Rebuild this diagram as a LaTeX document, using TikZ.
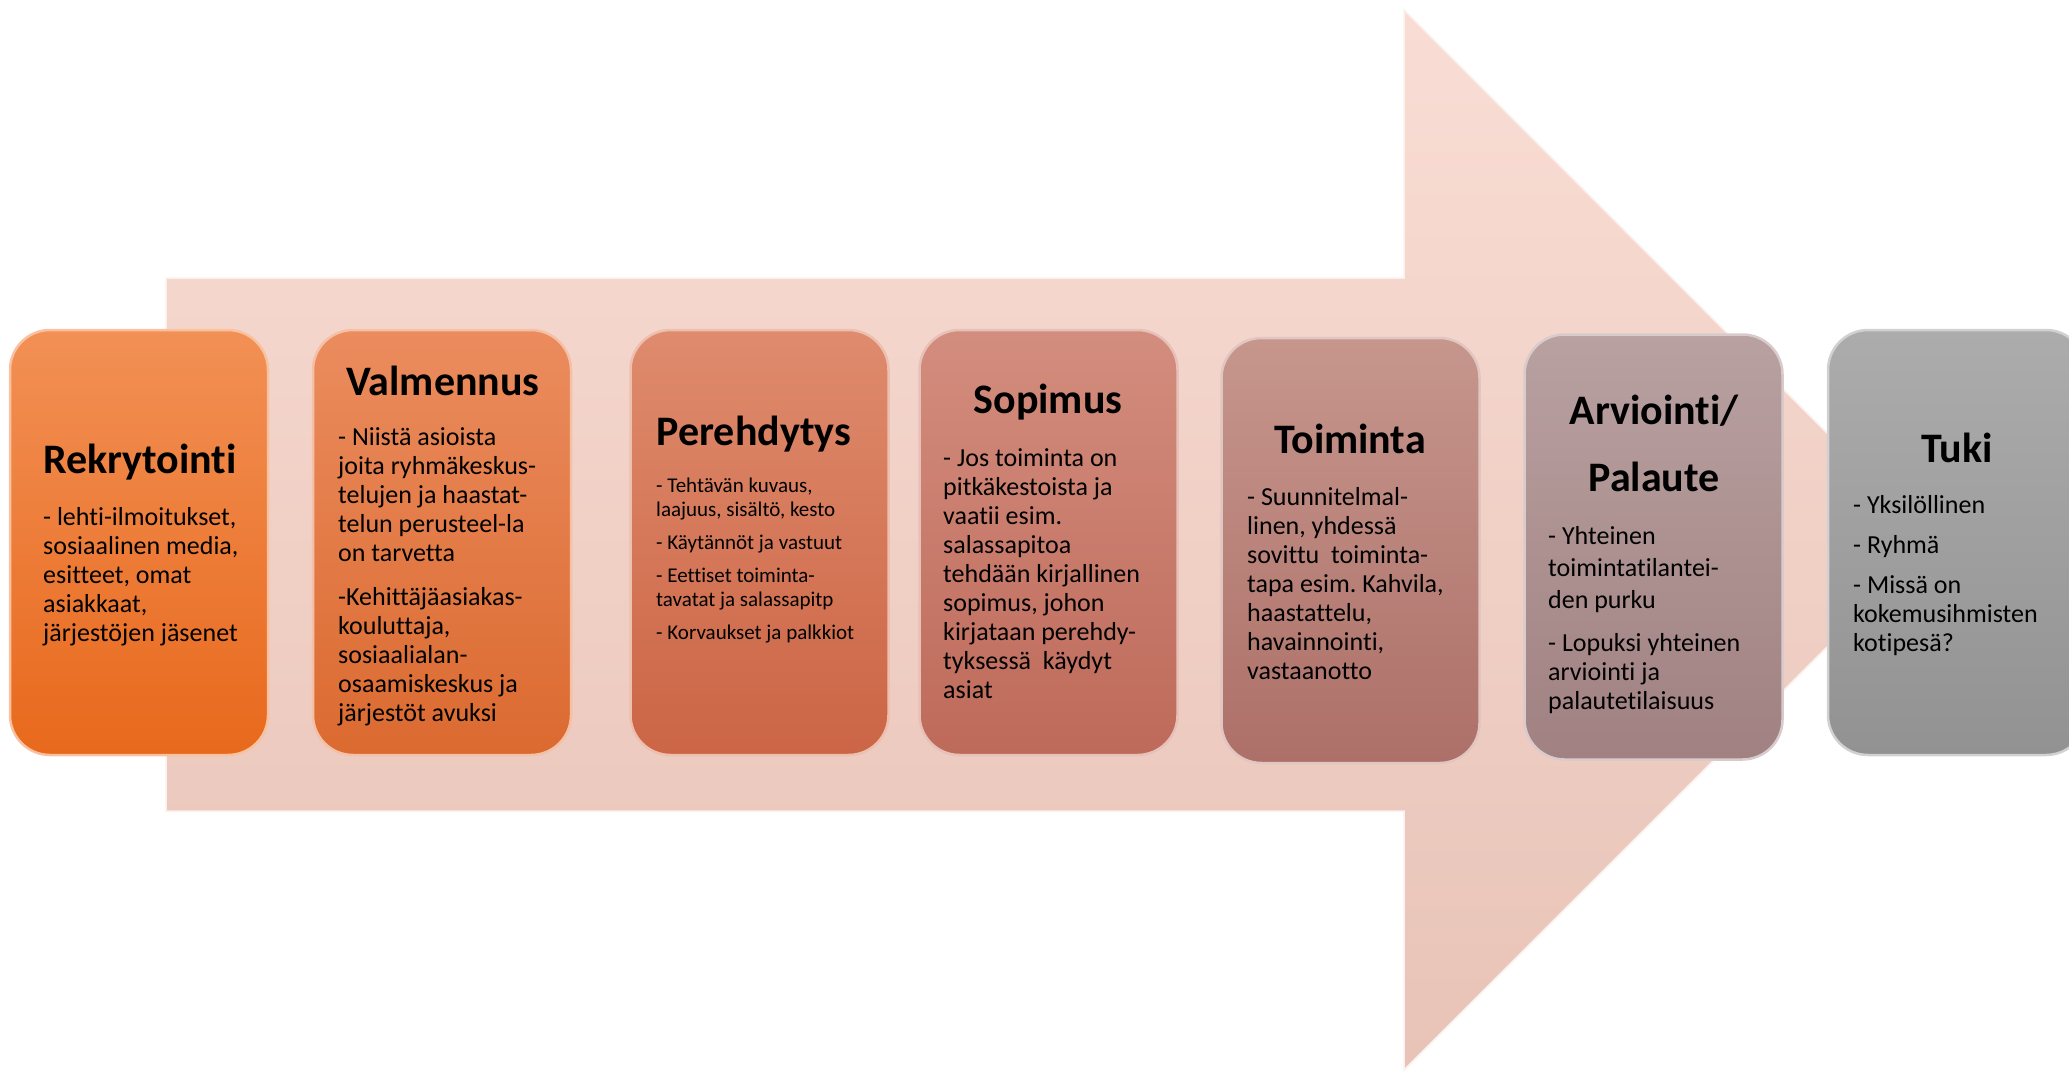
\documentclass[tikz,border=0pt]{standalone}
\usepackage{fontspec}
\setmainfont{Carlito}[Ligatures=NoCommon]
\frenchspacing
\definecolor{polkuNuoliTop}{HTML}{F9DDD4}
\definecolor{polkuNuoliBot}{HTML}{E8C3B7}
\definecolor{polku1Top}{HTML}{F29055}
\definecolor{polku1Bot}{HTML}{E8691C}
\definecolor{polku2Top}{HTML}{EB8C5E}
\definecolor{polku2Bot}{HTML}{DB6A30}
\definecolor{polku3Top}{HTML}{DF8B6D}
\definecolor{polku3Bot}{HTML}{CB6545}
\definecolor{polku4Top}{HTML}{D38D7E}
\definecolor{polku4Bot}{HTML}{BE6A5A}
\definecolor{polku5Top}{HTML}{C6968D}
\definecolor{polku5Bot}{HTML}{AD7068}
\definecolor{polku6Top}{HTML}{B9A1A1}
\definecolor{polku6Bot}{HTML}{A18181}
\definecolor{polku7Top}{HTML}{ACACAC}
\definecolor{polku7Bot}{HTML}{929292}
\usetikzlibrary{
	positioning,
	calc
}
\tikzset{
	vaihe/.style={
		rounded corners=40pt,
		minimum width=258pt,
		minimum height=425pt,
		inner sep=0pt,
		line width=2.5pt
	},
	otsikko/.style={
		font=\fontsize{42}{67}\selectfont\bfseries,
		align=center,
		inner sep=0pt
	},
	teksti/.style={
		font=\fontsize{26}{29}\selectfont,
		align=left,
		anchor=north west,
		inner sep=0pt
	},
	pieni/.style={
		font=\fontsize{21}{24}\selectfont
	},
	nuoli/.style={
		draw=white!55!polkuNuoliTop,
		line width=1.5pt,
		top color=polkuNuoliTop,
		bottom color=polkuNuoliBot
	}
}

\begin{document}
\begin{tikzpicture}[x=1pt,y=-1pt]
		\useasboundingbox (0,0) rectangle (2069,1071);
		\clip (0,0) rectangle (2069,1071);
		% taustanuoli
		\draw[nuoli] (166,278) -- (1404,278) -- (1404,10) -- (1934,540) -- (1404,1070) -- (1404,811) -- (166,811) -- cycle;
		% vaiheet
		\foreach \i/\x/\y in {1/139/542.5,2/442/542.5,3/759.5/542.5,4/1048.5/542.5,5/1350.5/550.5,6/1653.5/547,7/1957/542.5}{
			\node[vaihe, draw=polku\i Top!55!white, top color=polku\i Top, bottom color=polku\i Bot] (v\i) at (\x,\y) {};
		}
		\node[otsikko] (o1) at (140,462) {Rekrytointi};
		\node[otsikko] (o2) at (443,381) {Valmennus};
		\node[otsikko] (o3) at (754,434) {Perehdytys};
		\node[otsikko] (o4) at (1048,402) {Sopimus};
		\node[otsikko] (o5) at (1350,439) {Toiminta};
		\node[otsikko] (o6) at (1654,443) {Arviointi/\\Palaute};
		\node[otsikko] (o7) at (1957,448) {Tuki};
		\node[teksti] (t1) at (43,507) {- lehti-ilmoitukset,\\sosiaalinen media,\\esitteet, omat\\asiakkaat,\\järjestöjen jäsenet};
		\node[teksti] (t2) at (338,427) {- Niistä asioista\\joita ryhmäkeskus-\\telujen ja haastat-\\telun perusteel-la\\on tarvetta\\[15pt]-Kehittäjäasiakas-\\kouluttaja,\\sosiaalialan-\\osaamiskeskus ja\\järjestöt avuksi};
		\node[teksti, pieni] (t3) at (656,478) {- Tehtävän kuvaus,\\laajuus, sisältö, kesto\\[9pt]- Käytännöt ja vastuut\\[9pt]- Eettiset toiminta-\\tavatat ja salassapitp\\[9pt]- Korvaukset ja palkkiot};
		\node[teksti] (t4) at (943,448) {- Jos toiminta on\\pitkäkestoista ja\\vaatii esim.\\salassapitoa\\tehdään kirjallinen\\sopimus, johon\\kirjataan perehdy-\\tyksessä~ käydyt\\asiat};
		\node[teksti] (t5) at (1247,487) {- Suunnitelmal-\\linen, yhdessä\\sovittu~ toiminta-\\tapa esim. Kahvila,\\haastattelu,\\havainnointi,\\vastaanotto};
		\node[teksti] (t6) at (1548,526) {- Yhteinen\\[3pt]toimintatilantei-\\[3pt]den purku\\[14pt]- Lopuksi yhteinen\\arviointi ja\\palautetilaisuus};
		\node[teksti] (t7) at (1853,495) {- Yksilöllinen\\[11pt]- Ryhmä\\[11pt]- Missä on\\kokemusihmisten\\kotipesä?};
	\end{tikzpicture}
\end{document}
